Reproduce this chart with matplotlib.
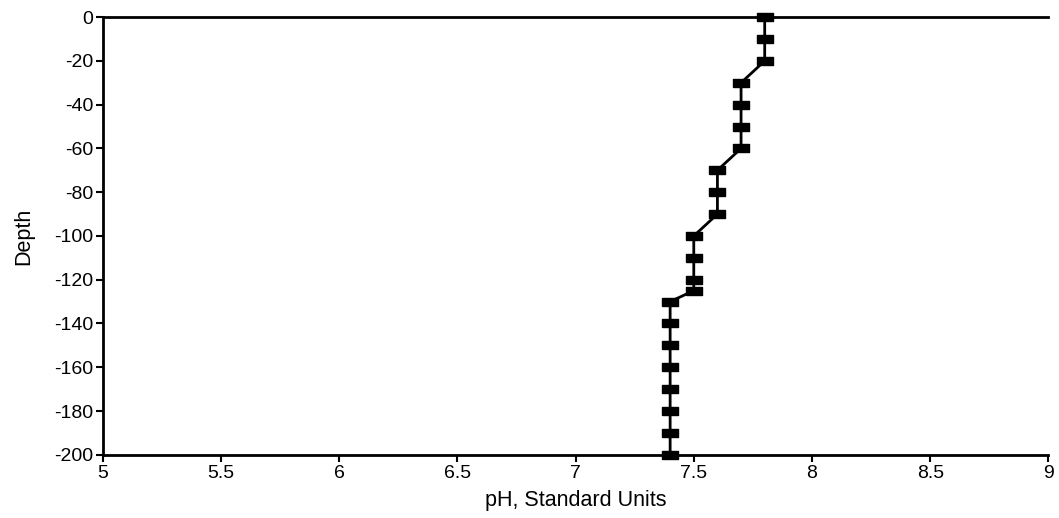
import matplotlib
matplotlib.use('Agg')
import matplotlib.pyplot as plt
import numpy as np

plt.rcParams['font.family'] = ['Liberation Sans', 'DejaVu Sans']
plt.rcParams['axes.unicode_minus'] = False

depth = [0, -10, -20, -30, -40, -50, -60, -70, -80, -90, -100, -110, -120, -125,
         -130, -140, -150, -160, -170, -180, -190, -200]
ph = [7.8, 7.8, 7.8, 7.7, 7.7, 7.7, 7.7, 7.6, 7.6, 7.6, 7.5, 7.5, 7.5, 7.5,
      7.4, 7.4, 7.4, 7.4, 7.4, 7.4, 7.4, 7.4]

xticks = [5, 5.5, 6, 6.5, 7, 7.5, 8, 8.5, 9]
yticks = list(range(0, -201, -20))

# wide flat rectangle marker
rect = [(-1, -0.45), (1, -0.45), (1, 0.45), (-1, 0.45), (-1, -0.45)]

fig = plt.figure(figsize=(10.59, 5.18), dpi=100)
ax = fig.add_axes([0.097, 0.122, 0.893, 0.845])
ax.plot(ph, depth, '-', color='black', lw=2, marker=rect, markersize=12,
        markerfacecolor='black', markeredgecolor='black', clip_on=False, zorder=3)

ax.set_xlim(5, 9)
ax.set_ylim(-200, 0)
ax.set_xticks(xticks)
ax.set_xticklabels([f'{t:g}' for t in xticks])
ax.set_yticks(yticks)
ax.tick_params(direction='out', length=5, width=1.5, labelsize=14, pad=2)
for s in ['left', 'bottom', 'top']:
    ax.spines[s].set_linewidth(2)
ax.spines['right'].set_visible(False)
ax.set_xlabel('pH, Standard Units', fontsize=15.5, labelpad=6)
ax.set_ylabel('Depth', fontsize=15.5, labelpad=14)

fig.savefig('out.png', dpi=100)
